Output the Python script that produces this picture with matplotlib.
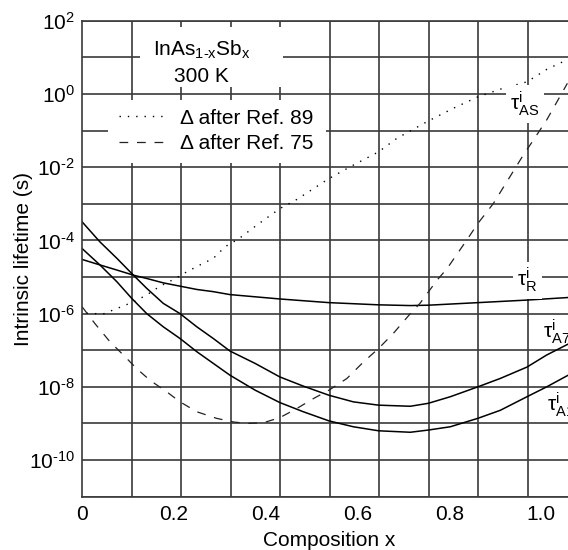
import numpy as np
import matplotlib
matplotlib.use("Agg")
import matplotlib.pyplot as plt
from matplotlib.ticker import FixedLocator, FuncFormatter, NullFormatter
from matplotlib.patches import Rectangle

plt.rcParams["font.family"] = ["Liberation Sans", "DejaVu Sans"]
plt.rcParams["mathtext.fontset"] = "custom"
plt.rcParams["mathtext.rm"] = "Liberation Sans"
plt.rcParams["mathtext.it"] = "Liberation Sans"

# curves: composition x, log10(lifetime / s)
x_a7 = [0, 0.039, 0.076, 0.108, 0.141, 0.177, 0.2135, 0.250, 0.286, 0.322, 0.377, 0.431,
        0.482, 0.538, 0.591, 0.646, 0.715, 0.754, 0.802, 0.862, 0.911, 0.969, 1.012, 1.059]
log_a7 = [-3.49, -4.04, -4.49, -4.90, -5.31, -5.72, -6.00, -6.36, -6.68, -7.02, -7.36, -7.73,
          -7.98, -8.23, -8.41, -8.50, -8.53, -8.45, -8.27, -8.00, -7.77, -7.46, -7.13, -6.83]

x_a1 = x_a7
log_a1 = [-4.22, -4.67, -5.13, -5.58, -6.00, -6.36, -6.68, -7.04, -7.36, -7.68, -8.09, -8.43,
          -8.68, -8.93, -9.09, -9.20, -9.24, -9.18, -9.09, -8.86, -8.64, -8.27, -8.00, -7.68]

x_r = [0, 0.039, 0.076, 0.112, 0.141, 0.177, 0.2135, 0.250, 0.286, 0.322, 0.431, 0.538,
       0.646, 0.715, 0.754, 0.862, 0.969, 1.059]
log_r = [-4.52, -4.67, -4.81, -4.95, -5.04, -5.16, -5.25, -5.34, -5.40, -5.48, -5.60, -5.70,
         -5.76, -5.78, -5.77, -5.70, -5.63, -5.56]

x_ref89 = [0.010, 0.046, 0.076, 0.112, 0.141, 0.170, 0.199, 0.228, 0.257, 0.286, 0.312, 0.341,
           0.381, 0.431, 0.468, 0.538, 0.584, 0.646, 0.686, 0.754, 0.809, 0.862, 0.911, 0.969,
           1.012, 1.056]
log_ref89 = [-5.99, -6.01, -5.86, -5.68, -5.49, -5.25, -5.07, -4.86, -4.67, -4.49, -4.17, -3.96,
             -3.58, -3.13, -2.88, -2.31, -1.99, -1.58, -1.21, -0.74, -0.39, -0.08, 0.13, 0.33,
             0.67, 0.93]

x_ref75 = [0, 0.028, 0.061, 0.090, 0.119, 0.148, 0.185, 0.2135, 0.250, 0.293, 0.330, 0.36,
           0.395, 0.431, 0.468, 0.504, 0.538, 0.577, 0.613, 0.646, 0.678, 0.715, 0.736, 0.773,
           0.795, 0.838, 0.862, 0.896, 0.932, 0.961, 0.983, 1.012, 1.049, 1.057]
log_ref75 = [-5.81, -6.27, -6.77, -7.13, -7.50, -7.82, -8.14, -8.41, -8.68, -8.86, -8.96, -9.00,
             -8.98, -8.84, -8.59, -8.32, -8.09, -7.77, -7.32, -6.95, -6.54, -6.00, -5.72, -5.09,
             -4.77, -3.99, -3.54, -2.99, -2.26, -1.67, -1.26, -0.71, 0.11, 0.29]

xticks = [0, 0.2, 0.4, 0.6, 0.8, 1.0]
xticklabels = ["0", "0.2", "0.4", "0.6", "0.8", "1.0"]
ydecades = list(range(-10, 3, 2))

xmax = 1.078
fs = 15
gridc = "#3a3a3a"
HY = "\u2010"  # short hyphen like in the original


def decade_label(v, pos):
    e = int(round(np.log10(v)))
    s = str(e).replace("-", HY)
    return r"$\mathregular{10^{%s}}$" % s


fig = plt.figure(figsize=(5.68, 5.5), dpi=100)
ax = fig.add_axes([82 / 568, 53.3 / 550, 495 / 568, 476 / 550])

ax.plot(x_a7, 10.0 ** np.array(log_a7), color="black", lw=1.1, zorder=2)
ax.plot(x_a1, 10.0 ** np.array(log_a1), color="black", lw=1.1, zorder=2)
ax.plot(x_r, 10.0 ** np.array(log_r), color="black", lw=1.1, zorder=2)
l89, = ax.plot(x_ref89, 10.0 ** np.array(log_ref89), color="black", lw=1.0,
               linestyle=(0, (1, 5)), label="\u0394 after Ref. 89", zorder=2)
l75, = ax.plot(x_ref75, 10.0 ** np.array(log_ref75), color="#222222", lw=0.9,
               linestyle=(0, (7, 7)), label="\u0394 after Ref. 75", zorder=2)

ax.set_yscale("log")
ax.set_xlim(0, xmax)
ax.set_ylim(1e-11, 1e2)

ax.xaxis.set_major_locator(FixedLocator(xticks))
ax.set_xticklabels(xticklabels)
ax.xaxis.set_minor_locator(FixedLocator(np.linspace(0, xmax, 11)[1:-1]))
ax.yaxis.set_major_locator(FixedLocator([10.0 ** d for d in ydecades]))
ax.yaxis.set_minor_locator(FixedLocator([10.0 ** d for d in range(-11, 2, 2)]))
ax.yaxis.set_major_formatter(FuncFormatter(decade_label))
ax.yaxis.set_minor_formatter(NullFormatter())
ax.tick_params(which="both", length=0, labelsize=fs)
ax.tick_params(axis="x", pad=6)
ax.tick_params(axis="y", pad=5)

ax.grid(True, axis="x", which="minor", color=gridc, lw=1.2)
ax.grid(True, axis="y", which="both", color=gridc, lw=1.2)
for s in ax.spines.values():
    s.set_color(gridc)
    s.set_linewidth(1.2)

ax.set_xlabel("Composition x", fontsize=fs, labelpad=5)
ax.set_ylabel("Intrinsic lifetime (s)", fontsize=fs)
ax.yaxis.set_label_coords(-0.099, 0.5)

# white boxes behind the title and the legend
ax.add_patch(Rectangle((0.117, 0.861), 0.289, 0.126, transform=ax.transAxes,
                       facecolor="white", edgecolor="none", zorder=2.5))
ax.add_patch(Rectangle((0.053, 0.701), 0.44, 0.132, transform=ax.transAxes,
                       facecolor="white", edgecolor="none", zorder=2.5))

ax.text(0.242, 0.926, r"InAs$\mathregular{_{1%sx}}$Sb$\mathregular{_x}$" % HY,
        transform=ax.transAxes, ha="center", va="baseline", fontsize=fs, zorder=3)
ax.text(0.242, 0.872, "300 K", transform=ax.transAxes,
        ha="center", va="baseline", fontsize=fs, zorder=3)

leg = ax.legend(handles=[l89, l75], loc="upper left", bbox_to_anchor=(0.075, 0.815),
                frameon=False, borderpad=0, borderaxespad=0, handlelength=2.3,
                handletextpad=0.6, labelspacing=0.3, fontsize=fs)
leg.set_zorder(3)

lbl_box = dict(boxstyle="square,pad=0.2", facecolor="white", edgecolor="none")
ax.text(0.865, 0.825, r"$\mathregular{τ^i_{AS}}$", transform=ax.transAxes, ha="left",
        va="center", fontsize=fs, bbox=lbl_box, zorder=3)
ax.text(0.879, 0.455, r"$\mathregular{τ^i_{R}}$", transform=ax.transAxes, ha="left",
        va="center", fontsize=fs, bbox=lbl_box, zorder=3)
# these two run past the right edge, as in the original
ax.text(0.931, 0.347, r"$\mathregular{τ^i_{A7}}$", transform=ax.transAxes, ha="left",
        va="center", fontsize=fs, zorder=3)
ax.text(0.939, 0.193, r"$\mathregular{τ^i_{A1}}$", transform=ax.transAxes, ha="left",
        va="center", fontsize=fs, zorder=3)

fig.savefig("out.png", dpi=100)
